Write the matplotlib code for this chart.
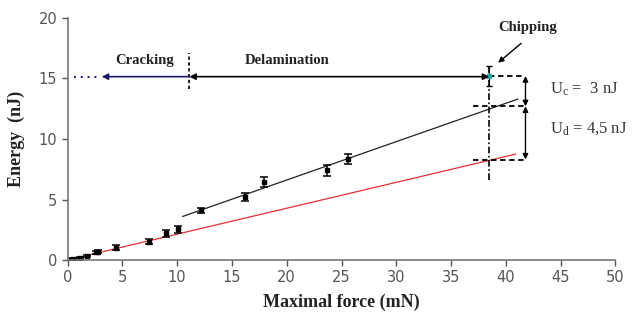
import matplotlib
matplotlib.use("Agg")
import matplotlib.pyplot as plt
import numpy as np

plt.rcParams["mathtext.fontset"] = "custom"
plt.rcParams["mathtext.rm"] = "Liberation Serif"
plt.rcParams["mathtext.it"] = "Liberation Serif:italic"
plt.rcParams["mathtext.bf"] = "Liberation Serif:bold"

# Data
force = [0.2, 0.5, 1.1, 1.75, 2.6, 2.8, 4.4, 7.45, 9.0, 10.1, 12.15, 16.2, 17.9, 23.7, 25.55]
energy = [0.03, 0.08, 0.15, 0.35, 0.65, 0.7, 1.0, 1.5, 2.2, 2.55, 4.1, 5.2, 6.45, 7.4, 8.35]
energy_err = [0.05, 0.05, 0.08, 0.1, 0.12, 0.1, 0.2, 0.2, 0.3, 0.3, 0.2, 0.35, 0.4, 0.45, 0.45]

chip_force = 38.5
chip_energy = 15.2
chip_err = 0.8

black_fit_x = [10.5, 41.1]
black_fit_y = [3.6, 13.3]
red_fit_x = [0.0, 40.9]
red_fit_y = [0.0, 8.75]

crack_force = 11.1
level_chip = 15.2
level_delam = 12.7
level_crack = 8.3
arrow_x = 41.8

x_ticks = [0, 5, 10, 15, 20, 25, 30, 35, 40, 45, 50]
y_ticks = [0, 5, 10, 15, 20]

fig = plt.figure(figsize=(6.33, 3.21), dpi=100)
ax = fig.add_axes([0.107, 0.19, 0.865, 0.754])

serif = "Liberation Serif"
sans = "DejaVu Sans"

ax.plot(red_fit_x, red_fit_y, color="#e8303a", lw=0.9)
ax.plot(black_fit_x, black_fit_y, color="#222222", lw=0.9)
ax.errorbar(force, energy, yerr=energy_err, fmt="s", ms=3, color="black",
            ecolor="black", elinewidth=1.1, capsize=3.0, capthick=1.1)
ax.errorbar([chip_force], [chip_energy], yerr=[chip_err], fmt="s", ms=2.5,
            color="#2aa8a8", ecolor="black", elinewidth=0.8, capsize=2.0)

# Cracking region
ax.plot([0.6, 2.8], [15.15, 15.15], ls=(0, (1, 2.5)), color="#1a1a7a", lw=1.4)
ax.annotate("", xy=(3.1, 15.15), xytext=(crack_force, 15.15),
            arrowprops=dict(arrowstyle="-|>", color="#1a1a6a", lw=1.2,
                            shrinkA=0, shrinkB=0, mutation_scale=9))
ax.plot([crack_force, crack_force], [14.1, 17.1], ls=(0, (2, 1.5)), color="black", lw=1.2)
ax.annotate("", xy=(crack_force, 15.15), xytext=(chip_force, 15.15),
            arrowprops=dict(arrowstyle="<|-|>", color="black", lw=1.2,
                            shrinkA=0, shrinkB=0, mutation_scale=9))
ax.text(7.0, 16.5, "Cracking", ha="center", va="center", family=serif,
        fontweight="bold", fontsize=10.5, color="#222222")
ax.text(20.0, 16.5, "Delamination", ha="center", va="center", family=serif,
        fontweight="bold", fontsize=10.5, color="#222222")

# Chipping
ax.plot([chip_force, chip_force], [6.6, 16.0], ls=(0, (4, 1.5, 1, 1.5)), color="black", lw=1.2)
ax.text(42.0, 19.2, "Chipping", ha="center", va="center", family=serif,
        fontweight="bold", fontsize=10.5, color="#222222")
ax.annotate("", xy=(39.3, 16.3), xytext=(41.4, 17.9),
            arrowprops=dict(arrowstyle="-|>", color="black", lw=1.0,
                            shrinkA=0, shrinkB=0, mutation_scale=8))

# Dashed levels
ax.plot([chip_force, arrow_x], [level_chip, level_chip], ls=(0, (3, 2)), color="black", lw=1.3)
ax.plot([37.0, arrow_x], [level_delam, level_delam], ls=(0, (3, 2)), color="black", lw=1.3)
ax.plot([37.0, arrow_x], [level_crack, level_crack], ls=(0, (3, 2)), color="black", lw=1.3)
for y0, y1 in [(level_chip, level_delam), (level_delam, level_crack)]:
    ax.annotate("", xy=(arrow_x, y0), xytext=(arrow_x, y1),
                arrowprops=dict(arrowstyle="<|-|>", color="black", lw=1.0,
                                shrinkA=0, shrinkB=0, mutation_scale=8))
ax.text(44.0, 14.1, r"U$_{\mathrm{c}}$ =  3 nJ", ha="left", va="center",
        family=serif, fontsize=12, color="#333333")
ax.text(44.0, 10.9, r"U$_{\mathrm{d}}$ = 4,5 nJ", ha="left", va="center",
        family=serif, fontsize=12, color="#333333")

ax.set_xlim(0, 50)
ax.set_ylim(0, 20)
ax.set_xticks(x_ticks)
ax.set_yticks(y_ticks)
for s in ["top", "right"]:
    ax.spines[s].set_visible(False)
for s in ["left", "bottom"]:
    ax.spines[s].set_color("#777777")
    ax.spines[s].set_linewidth(1.2)
ax.tick_params(colors="#555555", labelsize=10.5, length=4, width=1.0, direction="out")
for lab in ax.get_xticklabels() + ax.get_yticklabels():
    lab.set_family(sans)
    lab.set_color("#555555")

ax.set_xlabel("Maximal force (mN)", family=serif, fontweight="bold", fontsize=13,
              color="#222222", labelpad=6)
ax.set_ylabel("Energy  (nJ)", family=serif, fontweight="bold", fontsize=13,
              color="#222222", labelpad=10)

fig.savefig("out.png", dpi=100)
